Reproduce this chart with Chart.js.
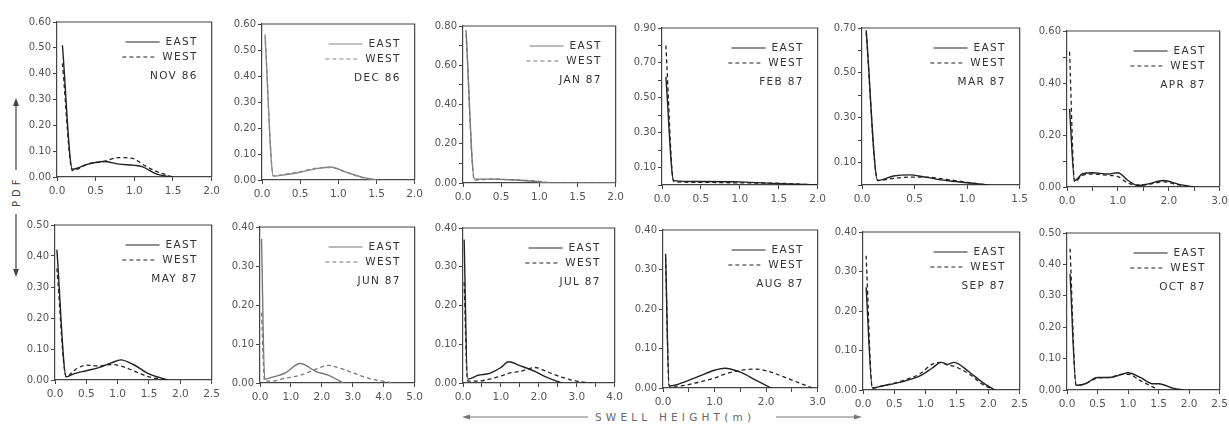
<!DOCTYPE html>
<html>
<head>
<meta charset="utf-8">
<script src="https://cdn.jsdelivr.net/npm/chart.js@4.4.1/dist/chart.umd.min.js"></script>
<style>
  body { margin: 0; background: #fff; width: 1229px; height: 425px; position: relative; overflow: hidden; }
  .panel { position: absolute; }
  svg { position: absolute; left: 0; top: 0; }
</style>
</head>
<body>
<svg width="1229" height="425" font-family="DejaVu Sans, sans-serif" fill="#444">
  <line x1="16" y1="170" x2="16" y2="104" stroke="#444" stroke-width="1.2"/>
  <polygon points="16,98 13,106 19,106"/>
  <text transform="translate(20,207) rotate(-90)" font-size="10" letter-spacing="4">PDF</text>
  <line x1="16" y1="214" x2="16" y2="270" stroke="#444" stroke-width="1.2"/>
  <polygon points="16,277 13,269 19,269"/>
  <line x1="468" y1="417" x2="588" y2="417" stroke="#777" stroke-width="1"/>
  <polygon points="462,417 470,414.5 470,419.5" fill="#777"/>
  <text x="595" y="421" font-size="10.5" letter-spacing="4.2" fill="#666">SWELL HEIGHT(m)</text>
  <line x1="776" y1="417" x2="856" y2="417" stroke="#777" stroke-width="1"/>
  <polygon points="862,417 854,414.5 854,419.5" fill="#777"/>
</svg>
<script>
// swell height (m) and PDF values
const novX    = [0.07, 0.2, 0.4, 0.6, 0.8, 1.0, 1.1, 1.3, 1.5];
const novEast = [0.51, 0.03, 0.05, 0.06, 0.05, 0.045, 0.04, 0.01, 0.0];
const novWest = [0.44, 0.025, 0.05, 0.06, 0.075, 0.07, 0.05, 0.02, 0.0];

const decX    = [0.04, 0.15, 0.3, 0.5, 0.7, 0.9, 1.1, 1.3, 1.5];
const decEast = [0.55, 0.015, 0.02, 0.03, 0.043, 0.05, 0.03, 0.012, 0.0];
const decWest = [0.56, 0.015, 0.022, 0.032, 0.045, 0.048, 0.03, 0.01, 0.0];

const janX    = [0.04, 0.15, 0.4, 0.7, 0.9, 1.0, 1.2, 2.0];
const janEast = [0.78, 0.02, 0.02, 0.015, 0.01, 0.005, 0.0, 0.0];
const janWest = [0.76, 0.015, 0.02, 0.015, 0.012, 0.008, 0.0, 0.0];

const febX    = [0.05, 0.15, 0.5, 1.0, 1.5, 2.0];
const febEast = [0.62, 0.025, 0.02, 0.018, 0.008, 0.0];
const febWest = [0.80, 0.02, 0.015, 0.012, 0.01, 0.0];

const marX    = [0.04, 0.15, 0.3, 0.45, 0.6, 0.8, 1.0, 1.2];
const marEast = [0.69, 0.02, 0.04, 0.045, 0.035, 0.02, 0.01, 0.0];
const marWest = [0.68, 0.02, 0.03, 0.035, 0.035, 0.025, 0.012, 0.0];

const aprX    = [0.05, 0.15, 0.3, 0.5, 0.8, 1.0, 1.2, 1.4, 1.6, 1.9, 2.2, 2.5];
const aprEast = [0.30, 0.025, 0.05, 0.055, 0.05, 0.055, 0.025, 0.005, 0.012, 0.025, 0.01, 0.0];
const aprWest = [0.52, 0.02, 0.045, 0.05, 0.045, 0.04, 0.015, 0.008, 0.01, 0.02, 0.008, 0.0];

const mayX    = [0.03, 0.18, 0.3, 0.5, 0.7, 0.9, 1.05, 1.25, 1.5, 1.8];
const mayEast = [0.42, 0.01, 0.02, 0.03, 0.04, 0.055, 0.065, 0.05, 0.02, 0.0];
const mayWest = [0.36, 0.01, 0.03, 0.048, 0.045, 0.05, 0.045, 0.03, 0.01, 0.0];

const junX    = [0.05, 0.15, 0.4, 0.8, 1.3, 1.8, 2.2, 2.7, 3.2, 3.6, 4.1, 4.3];
const junEast = [0.37, 0.01, 0.015, 0.025, 0.05, 0.03, 0.02, 0.0, null, null, null, null];
const junWest = [0.18, 0.005, 0.005, 0.012, 0.02, 0.035, 0.045, 0.035, 0.02, 0.01, 0.003, 0.0];

const julX    = [0.03, 0.12, 0.4, 0.7, 1.0, 1.2, 1.5, 1.9, 2.2, 2.6, 3.0, 3.4];
const julEast = [0.37, 0.01, 0.02, 0.025, 0.04, 0.055, 0.045, 0.03, 0.015, 0.0, null, null];
const julWest = [0.26, 0.005, 0.005, 0.01, 0.018, 0.025, 0.03, 0.04, 0.03, 0.015, 0.005, 0.0];

const augX    = [0.05, 0.12, 0.3, 0.7, 1.0, 1.2, 1.5, 1.8, 2.1, 2.4, 2.7, 2.9];
const augEast = [0.34, 0.005, 0.01, 0.03, 0.045, 0.05, 0.04, 0.02, 0.0, null, null, null];
const augWest = [0.33, 0.005, 0.005, 0.015, 0.025, 0.035, 0.045, 0.048, 0.04, 0.025, 0.01, 0.0];

const sepX    = [0.05, 0.15, 0.3, 0.6, 0.9, 1.1, 1.25, 1.35, 1.45, 1.7, 1.9, 2.1];
const sepEast = [0.26, 0.005, 0.01, 0.02, 0.035, 0.055, 0.07, 0.065, 0.07, 0.045, 0.02, 0.0];
const sepWest = [0.34, 0.005, 0.01, 0.022, 0.04, 0.065, 0.07, 0.063, 0.06, 0.04, 0.015, 0.0];

const octX    = [0.05, 0.15, 0.3, 0.5, 0.7, 0.9, 1.0, 1.2, 1.4, 1.5, 1.75, 1.9];
const octEast = [0.37, 0.015, 0.02, 0.04, 0.04, 0.05, 0.055, 0.04, 0.02, 0.02, 0.005, 0.0];
const octWest = [0.45, 0.015, 0.02, 0.038, 0.04, 0.05, 0.05, 0.03, 0.01, 0.0, null, null];

// tick labels
const yAll6   = [0, 0.1, 0.2, 0.3, 0.4, 0.5, 0.6];
const yAll5   = [0, 0.1, 0.2, 0.3, 0.4, 0.5];
const yAll4   = [0, 0.1, 0.2, 0.3, 0.4];
const yEven8  = [0, 0.2, 0.4, 0.6, 0.8];
const yOdd9   = [0.1, 0.3, 0.5, 0.7, 0.9];
const yOdd7   = [0.1, 0.3, 0.5, 0.7];
const yEven6  = [0, 0.2, 0.4, 0.6];
const xHalf20 = [0, 0.5, 1.0, 1.5, 2.0];
const xHalf15 = [0, 0.5, 1.0, 1.5];
const xHalf25 = [0, 0.5, 1.0, 1.5, 2.0, 2.5];
const xOne30  = [0, 1.0, 2.0, 3.0];
const xOne40  = [0, 1.0, 2.0, 3.0, 4.0];
const xOne50  = [0, 1.0, 2.0, 3.0, 4.0, 5.0];

const panels = [
  { month: 'NOV 86', x: novX, east: novEast, west: novWest, yMax: 0.6, yLab: yAll6,  xMax: 2.0, xStep: 0.5, xLab: xHalf20, box: [57, 22, 212, 177] },
  { month: 'DEC 86', x: decX, east: decEast, west: decWest, yMax: 0.6, yLab: yAll6,  xMax: 2.0, xStep: 0.5, xLab: xHalf20, box: [262, 24, 415, 180], ink: '#888' },
  { month: 'JAN 87', x: janX, east: janEast, west: janWest, yMax: 0.8, yLab: yEven8, xMax: 2.0, xStep: 0.5, xLab: xHalf20, box: [463, 26, 616, 183], ink: '#777' },
  { month: 'FEB 87', x: febX, east: febEast, west: febWest, yMax: 0.9, yLab: yOdd9,  xMax: 2.0, xStep: 0.5, xLab: xHalf20, box: [662, 28, 818, 185] },
  { month: 'MAR 87', x: marX, east: marEast, west: marWest, yMax: 0.7, yLab: yOdd7,  xMax: 1.5, xStep: 0.5, xLab: xHalf15, box: [862, 28, 1020, 185] },
  { month: 'APR 87', x: aprX, east: aprEast, west: aprWest, yMax: 0.6, yLab: yEven6, xMax: 3.0, xStep: 0.5, xLab: xOne30,  box: [1067, 31, 1220, 187] },
  { month: 'MAY 87', x: mayX, east: mayEast, west: mayWest, yMax: 0.5, yLab: yAll5,  xMax: 2.5, xStep: 0.5, xLab: xHalf25, box: [55, 225, 212, 380] },
  { month: 'JUN 87', x: junX, east: junEast, west: junWest, yMax: 0.4, yLab: yAll4,  xMax: 5.0, xStep: 1.0, xLab: xOne50,  box: [260, 227, 415, 383], ink: '#777' },
  { month: 'JUL 87', x: julX, east: julEast, west: julWest, yMax: 0.4, yLab: yAll4,  xMax: 4.0, xStep: 0.5, xLab: xOne40,  box: [463, 228, 615, 383] },
  { month: 'AUG 87', x: augX, east: augEast, west: augWest, yMax: 0.4, yLab: yAll4,  xMax: 3.0, xStep: 0.5, xLab: xOne30,  box: [663, 230, 818, 388] },
  { month: 'SEP 87', x: sepX, east: sepEast, west: sepWest, yMax: 0.4, yLab: yAll4,  xMax: 2.5, xStep: 0.5, xLab: xHalf25, box: [863, 232, 1020, 390] },
  { month: 'OCT 87', x: octX, east: octEast, west: octWest, yMax: 0.5, yLab: yAll5,  xMax: 2.5, xStep: 0.5, xLab: xHalf25, box: [1067, 233, 1220, 390] }
];

const Y_W = 42, PAD_R = 12, PAD_T = 8, X_H = 20;
const FONT = '"DejaVu Sans", sans-serif';

// frame on top/right plus the little legend inside each panel
const framePlugin = {
  id: 'frame',
  afterDraw(chart, args, opts) {
    const { ctx, chartArea: a } = chart;
    ctx.save();
    ctx.strokeStyle = '#444';
    ctx.lineWidth = 1.2;
    ctx.beginPath();
    ctx.moveTo(a.left, a.top);
    ctx.lineTo(a.right, a.top);
    ctx.lineTo(a.right, a.bottom);
    ctx.stroke();

    ctx.font = '10.5px ' + FONT;
    ctx.letterSpacing = '1.3px';
    ctx.fillStyle = '#333';
    ctx.textAlign = 'right';
    ctx.textBaseline = 'middle';
    const rx = a.right - 14;
    const rows = [['EAST', []], ['WEST', [4, 3]]];
    rows.forEach(([txt, dash], i) => {
      const y = a.top + 20 + i * 15;
      ctx.fillText(txt, rx, y);
      const w = ctx.measureText(txt).width;
      ctx.setLineDash(dash);
      ctx.strokeStyle = opts.ink;
      ctx.lineWidth = 1.2;
      ctx.beginPath();
      ctx.moveTo(rx - w - 40, y);
      ctx.lineTo(rx - w - 6, y);
      ctx.stroke();
    });
    ctx.setLineDash([]);
    ctx.fillText(opts.month, rx, a.top + 54);
    ctx.restore();
  }
};

const toPoints = (xs, ys) => xs.map((x, i) => ({ x, y: ys[i] })).filter(p => p.y !== null);
const has = (list, v, d) => list.some(l => l.toFixed(d) === v.toFixed(d));

panels.forEach(p => {
  const [l, t, r, b] = p.box;
  const div = document.createElement('div');
  div.className = 'panel';
  div.style.left = (l - Y_W) + 'px';
  div.style.top = (t - PAD_T) + 'px';
  div.style.width = (r - l + Y_W + PAD_R) + 'px';
  div.style.height = (b - t + PAD_T + X_H) + 'px';
  const canvas = document.createElement('canvas');
  div.appendChild(canvas);
  document.body.appendChild(div);
  const ink = p.ink || '#222';

  new Chart(canvas, {
    type: 'line',
    data: {
      datasets: [
        { label: 'EAST', data: toPoints(p.x, p.east), borderColor: ink, borderWidth: 1.4, pointRadius: 0, cubicInterpolationMode: 'monotone' },
        { label: 'WEST', data: toPoints(p.x, p.west), borderColor: ink, borderWidth: 1.3, borderDash: [4, 3], pointRadius: 0, cubicInterpolationMode: 'monotone' }
      ]
    },
    options: {
      responsive: true,
      maintainAspectRatio: false,
      animation: false,
      layout: { padding: { top: PAD_T, right: PAD_R, left: 0, bottom: 0 } },
      plugins: {
        legend: { display: false },
        tooltip: { enabled: false },
        frame: { month: p.month, ink: ink }
      },
      scales: {
        x: {
          type: 'linear',
          min: 0,
          max: p.xMax,
          afterFit: s => { s.height = X_H; },
          border: { color: '#444', width: 1.2 },
          grid: { drawOnChartArea: false, tickLength: 4, color: '#444' },
          ticks: {
            stepSize: p.xStep,
            autoSkip: false,
            maxRotation: 0,
            padding: 4,
            color: '#555',
            font: { family: FONT, size: 10.5 },
            callback: v => has(p.xLab, v, 1) ? v.toFixed(1) : ''
          }
        },
        y: {
          min: 0,
          max: p.yMax,
          afterFit: s => { s.width = Y_W; },
          border: { color: '#444', width: 1.2 },
          grid: { drawOnChartArea: false, tickLength: 4, color: '#444' },
          ticks: {
            stepSize: 0.1,
            autoSkip: false,
            padding: 2,
            color: '#555',
            font: { family: FONT, size: 10 },
            callback: v => has(p.yLab, v, 2) ? v.toFixed(2) : ''
          }
        }
      }
    },
    plugins: [framePlugin]
  });
});
</script>
</body>
</html>
